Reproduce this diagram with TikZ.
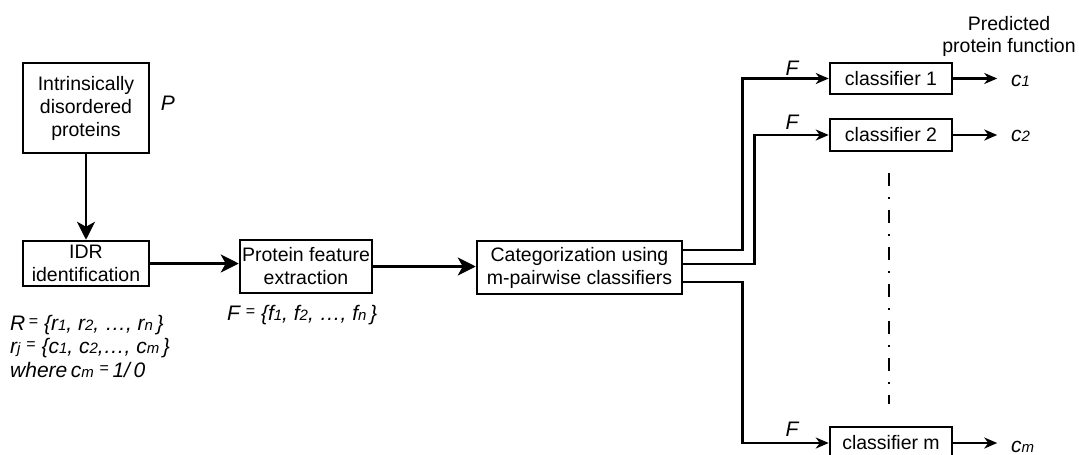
\documentclass[tikz,border=0pt]{standalone}
\usepackage{fontspec}
\setmainfont{Liberation Sans}
\usetikzlibrary{arrows.meta}
\usetikzlibrary{calc}
\newcommand{\ix}[1]{{\fontsize{15}{15}\selectfont #1}}
\newcommand{\eqs}{\raisebox{4pt}{\fontsize{16}{16}\selectfont\upshape =}}

\begin{document}
\begin{tikzpicture}[x=1pt,y=-1pt]
    \tikzset{line/.style={draw,line width=2.5pt}}
    \tikzset{arrow/.style={line,-{Stealth[length=18pt,width=18pt,inset=5pt]}}}
    \tikzset{arrowsm/.style={line,-{Stealth[length=13pt,width=11pt,inset=4pt]}}}
    \tikzset{box/.style={line,rectangle,inner sep=0pt,align=center,font=\fontsize{19.5}{23}\selectfont}}
    \tikzset{lbl/.style={inner sep=0pt,font=\fontsize{21}{24}\selectfont\itshape}}

    \useasboundingbox (0,0) rectangle (1079,455);

    \node[box,minimum width=126pt,minimum height=90pt] (idp) at (86,108) {Intrinsically\\disordered\\proteins};
    \node[lbl,anchor=base] (p) at (168,110) {P};
    \node[box,minimum width=126pt,minimum height=45pt] (idr) at (86,263.5) {IDR\\identification};
    \node[box,minimum width=132pt,minimum height=53pt] (pfe) at (306,266.5) {Protein feature\\extraction};
    \node[box,minimum width=205pt,minimum height=53pt] (cat) at (579.5,267.5) {Categorization using\\m-pairwise classifiers};

    \node[box,minimum width=122pt,minimum height=31pt] (cl1) at (891,78.5) {classifier 1};
    \node[box,minimum width=122pt,minimum height=32pt] (cl2) at (891,135) {classifier 2};
    \node[box,minimum width=122pt,minimum height=32pt] (clm) at (891,443) {classifier m};

    \path[arrow] (idp) -- (idr);
    \path[arrow] (idr.east) -- (idr.east -| pfe.west);
    \path[arrow] (pfe.east) -- (pfe.east -| cat.west);

    % lines out of the categorization box
    \coordinate (o1) at ($(cat.east)+(0,-17.5)$);
    \coordinate (o2) at ($(cat.east)+(0,-3.5)$);
    \coordinate (o3) at ($(cat.east)+(0,14.5)$);
    \path[arrowsm] (o1) -- ++(59,0) |- (cl1.west);
    \path[arrowsm] (o2) -- ++(71,0) |- (cl2.west);
    \path[arrowsm] (o3) -- ++(59,0) |- (clm.west);

    \node[lbl,anchor=base] (f1) at (792,75) {F};
    \node[lbl,anchor=base] (f2) at (792,129) {F};
    \node[lbl,anchor=base] (fm) at (792,436) {F};

    \coordinate (d1) at (889,173);
    \coordinate (d2) at (889,404);
    \path[line,dash pattern=on 13pt off 11pt on 2pt off 11pt] (d1) -- (d2);

    % outputs
    \node[lbl,anchor=base west] (c1) at (1011,86) {c\ix{1}};
    \node[lbl,anchor=base west] (c2) at (1011,141) {c\ix{2}};
    \node[lbl,anchor=base west] (cm) at (1011,452) {c\ix{m}};
    \path[arrowsm] (cl1.east) -- ++(44,0);
    \path[arrowsm] (cl2.east) -- ++(44,0);
    \path[arrowsm] (clm.east) -- ++(44,0);
    \node[align=center,font=\fontsize{19.5}{22}\selectfont] (pred) at (1009,36) {Predicted\\protein function};

    \node[lbl,anchor=base west] (setf) at (227,320) {F\;\eqs\ \{f\ix{1}, f\ix{2}, …, f\ix{n}\,\}};
    \node[lbl,anchor=base west] (setr) at (10,330) {R\,\eqs\ \{r\ix{1}, r\ix{2}, …, r\ix{n}\,\}};
    \node[lbl,anchor=base west] (setrj) at (10,353) {r\ix{j}\ \eqs\ \{c\ix{1}, c\ix{2},…, c\ix{m}\,\}};
    \node[lbl,anchor=base west] (where) at (10,377) {where\,c\ix{m}\ \eqs\,1/\,0};
\end{tikzpicture}
\end{document}
